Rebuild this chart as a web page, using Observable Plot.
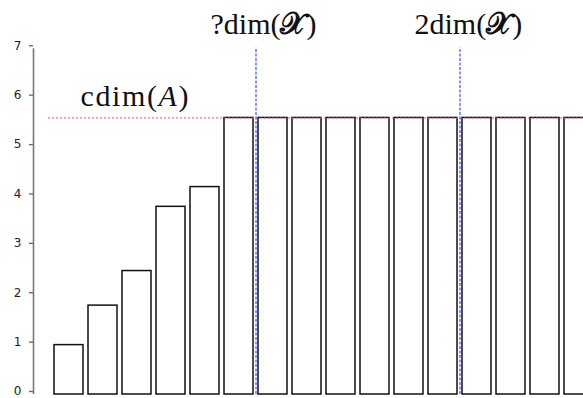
<!DOCTYPE html>
<html><head><meta charset="utf-8">
<script src="https://cdn.jsdelivr.net/npm/d3@7"></script>
<script src="https://cdn.jsdelivr.net/npm/@observablehq/plot@0.6"></script>
<style>body{margin:0;background:#fff}</style>
</head><body><div id="chart"></div>
<script>
const positions = [1,2,3,4,5,6,7,8,9,10,11,12,13,14,15,16];
const values = [1.0, 1.8, 2.5, 3.8, 4.2, 5.6, 5.6, 5.6, 5.6, 5.6, 5.6, 5.6, 5.6, 5.6, 5.6, 5.6];
const yTicks = [0,1,2,3,4,5,6,7];
const cdimValue = 5.6;
const vLines = [6.5, 12.5];
const vLabels = ["?dim(𝒳)", "2dim(𝒳)"];
const hLabel = "cdim(A)";

const half = 0.4265;
const bars = positions.map((p, i) => ({x1: p - half, x2: p + half, y: values[i]}));
const serif = "'Liberation Serif', 'DejaVu Serif', serif";

const chart = Plot.plot({
  width: 583, height: 398,
  marginLeft: 33, marginTop: 0, marginBottom: 0, marginRight: 0,
  x: {domain: [0, 16], range: [34.5, 578.5], axis: null},
  y: {domain: [0, 7], range: [394, 48.3], axis: null},
  style: {background: "#fff", overflow: "hidden"},
  marks: [
    Plot.axisY(yTicks, {anchor: "left", label: null, tickSize: 4, tickPadding: 8, stroke: "#666", fill: "#222",
      fontSize: 12, fontFamily: "'DejaVu Sans', sans-serif", dy: -3, strokeWidth: 1.3}),
    Plot.ruleX([0], {y1: 0, y2: 7, dx: 33 - 34.5, stroke: "#777", strokeWidth: 1.6}),
    Plot.rectY(bars, {x1: "x1", x2: "x2", y: "y", fill: "#fff", stroke: "#111", strokeWidth: 1.5}),
    Plot.ruleY([cdimValue], {x1: 0.4, x2: 16.6, stroke: "#e85050", strokeWidth: 1, strokeDasharray: "2,2"}),
    Plot.ruleX(vLines, {y1: 0, y2: 7.02, stroke: "#1a2cff", strokeWidth: 1, strokeDasharray: "3,1.5"}),
    Plot.text(vLines, {x: d => d, y: 7.3, text: (d, i) => vLabels[i], textAnchor: "start", dx: -45.5,
      fontSize: 30, fontFamily: serif, fill: "#111", lineAnchor: "bottom"}),
    Plot.text([hLabel], {x: 1.34, y: 5.85, text: d => d, textAnchor: "start",
      fontSize: 30, fontFamily: serif, fill: "#111", lineAnchor: "bottom"})
  ]
});
document.getElementById("chart").appendChild(chart);

// style the math variables inside the labels
d3.select(chart).selectAll("text").each(function() {
  const t = d3.select(this);
  const s = t.text();
  const m = s.match(/^(.*\()(A|𝒳)(\))$/u);
  if (!m) return;
  t.text(null);
  t.append("tspan").text(m[1]);
  const v = t.append("tspan").text(m[2]);
  if (m[2] === "A") { v.attr("font-style", "italic"); t.attr("letter-spacing", "1.6"); }
  else v.attr("font-weight", "bold");
  t.append("tspan").text(m[3]);
});
</script></body></html>
